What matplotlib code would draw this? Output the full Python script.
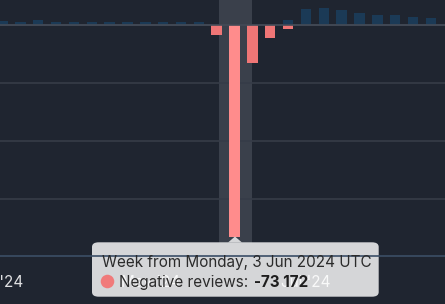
import numpy as np
import pandas as pd
import matplotlib
matplotlib.use('Agg')
import matplotlib.pyplot as plt
import matplotlib.dates as mdates
import matplotlib.transforms as mtransforms
from matplotlib.patches import FancyBboxPatch, Polygon

# weekly review counts (weeks starting Monday)
weeks = pd.date_range('2024-03-04', periods=25, freq='7D')
positive = [1300, 1100, 1600, 1200, 1200, 1150, 1200, 1150, 1150, 1100, 1150, 1150,
            0, 0, 0, 0, 1700, 5500, 5900, 5300, 4250, 3550, 3550, 2750, 2300]
negative = [0, 0, 0, 0, 0, 0, 0, 0, 0, 0, 0, 0,
            -3350, -73172, -13200, -4400, -1500, 0, 0, 0, 0, 0, 0, 0, 0]
hover_idx = 13
month_ticks = pd.to_datetime(['2024-03-01', '2024-05-01', '2024-07-01'])

bg = '#1f2530'
plt.rcParams['font.family'] = ['Inter', 'DejaVu Sans']

fig = plt.figure(figsize=(4.45, 3.04), dpi=100, facecolor=bg)
ax = fig.add_axes([0, 0.1563, 1, 0.8437])
ax.set_facecolor(bg)

x = mdates.date2num(weeks)
bar_w = 4.1

# hover band
ax.axvspan(x[hover_idx] - 6.2, x[hover_idx] + 6.8, color='#3a404b', zorder=0.5, lw=0)

ax.bar(x, positive, width=bar_w, color='#1b3a56', zorder=2)
neg_colors = ['#ff8c8c' if i == hover_idx else '#ef7676' for i in range(len(x))]
ax.bar(x, negative, width=bar_w, color=neg_colors, zorder=2)

ax.set_ylim(-80000, 8640)
ax.set_yticks([0, -20000, -40000, -60000])
ax.yaxis.grid(True, color='#363c48', lw=1.2, zorder=1)
ax.tick_params(axis='y', left=False, labelleft=False)
ax.axhline(0, color='#444b57', lw=1.2, zorder=2.2)

left = x[0] - 0.98
ax.set_xlim(left, left + 174.5)
ax.tick_params(axis='x', bottom=False, labelbottom=False)

for s in ['top', 'left', 'right']:
    ax.spines[s].set_visible(False)
ax.spines['bottom'].set_color('#3b4e66')
ax.spines['bottom'].set_linewidth(1.2)

# month labels (drawn by hand so the half-visible one at the left edge shows)
trans = mtransforms.blended_transform_factory(ax.transData, ax.transAxes)
for m in month_ticks:
    ax.text(mdates.date2num(m), -0.1177, m.strftime("%b '%y"), transform=trans,
            ha='center', va='baseline', fontsize=11, color='white', alpha=0.86,
            clip_on=False, zorder=2.6)

# tooltip (figure pixel coords, y from top)
W, H = 445, 304
def fx(px):
    return px / W
def fy(py):
    return 1 - py / H

box = FancyBboxPatch((fx(92), fy(296.7)), fx(378.7) - fx(92), fy(242.3) - fy(296.7),
                     boxstyle='round,pad=0,rounding_size=0.015', transform=fig.transFigure,
                     facecolor='#d5d6d8', edgecolor='none', clip_on=False, zorder=2.4)
ax.add_patch(box)
tri = Polygon([(fx(228), fy(242.5)), (fx(242), fy(242.5)), (fx(235), fy(236.5))],
              closed=True, transform=fig.transFigure, facecolor='#d5d6d8',
              edgecolor='none', clip_on=False, zorder=2.4)
ax.add_patch(tri)

label = weeks[hover_idx].strftime('Week from %A, %-d %b %Y UTC')
ax.text(fx(101.7), fy(266.7), label, transform=fig.transFigure, fontsize=11,
        color='#2b2b2b', va='baseline', ha='left', zorder=3)
ax.scatter([fx(107.3)], [fy(281)], s=95, color='#f07a7a', transform=fig.transFigure,
           clip_on=False, zorder=3, linewidths=0)
ax.text(fx(119.3), fy(286.7), 'Negative reviews: ', transform=fig.transFigure, fontsize=11,
        color='#2b2b2b', va='baseline', ha='left', zorder=3)
val = f'{negative[hover_idx]:,}'.replace(',', ' ')
ax.text(fx(254), fy(286.7), val, transform=fig.transFigure, fontsize=11,
        color='#1e1e1e', va='baseline', ha='left', fontweight='bold', zorder=3)

fig.savefig('out.png', dpi=100, facecolor=bg)
